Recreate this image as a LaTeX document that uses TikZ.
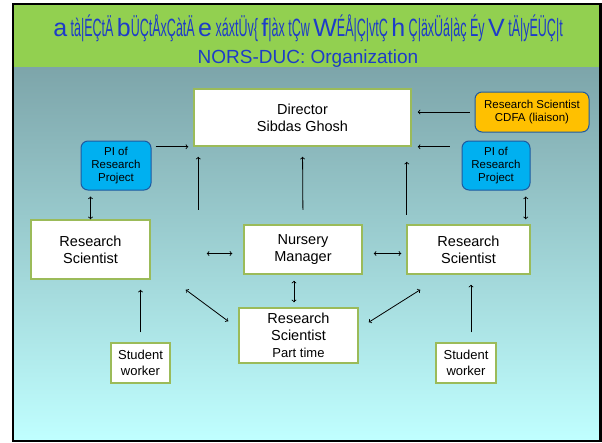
\documentclass[tikz,border=0pt]{standalone}
\usepackage{fontspec}
\setmainfont{Liberation Sans}
\newfontfamily\titlewide{Liberation Sans}
\newfontfamily\titlenarrow[FakeStretch=0.5]{Liberation Sans}

\definecolor{bandgreen}{RGB}{146,208,80}
\definecolor{titleblue}{RGB}{30,60,200}
\definecolor{boxline}{RGB}{155,187,89}
\definecolor{piblue}{RGB}{0,176,240}
\definecolor{piline}{RGB}{31,90,160}
\definecolor{liaison}{RGB}{255,192,0}
\definecolor{slidetop}{RGB}{125,165,170}
\definecolor{slidemid}{RGB}{168,220,222}
\definecolor{slidebot}{RGB}{192,255,255}

% wide glyph inside the narrow title line
\newcommand{\widechar}[1]{{\titlewide #1}}

\begin{document}
\begin{tikzpicture}[x=1pt, y=-1pt, line width=0.8pt,
  orgbox/.style={draw=boxline, line width=1.5pt, fill=white, align=center,
    inner sep=1pt, font=\fontsize{14.5}{17}\selectfont},
  smallbox/.style={orgbox, font=\fontsize{13}{16}\selectfont},
  pibox/.style={draw=piline, line width=1pt, fill=piblue, rounded corners=7pt,
    align=center, inner sep=1pt, font=\fontsize{11.5}{13.3}\selectfont},
  link/.style={<->}]

  \useasboundingbox (0,0) rectangle (602,442);

  % Slide background, title band and frame
  \shade[top color=slidetop, middle color=slidemid, bottom color=slidebot] (12,67) rectangle (600,441);
  \fill[bandgreen] (12,3) rectangle (600,67);
  \draw[line width=2.5pt] (13.2,4.2) rectangle (600.5,440.8);

  % Title lines
  \node[anchor=base, text=titleblue, font=\titlenarrow\fontsize{25}{28}\selectfont] (title) at (308,36)
    {\widechar{a} tà|ÉÇtÄ \widechar{b}ÜÇtÅxÇàtÄ \widechar{e} xáxtÜv\{ \widechar{f}|àx tÇw \widechar{W}ÉÅ|Ç|vtÇ \widechar{h} Ç|äxÜá|àç Éy \widechar{V} tÄ|yÉÜÇ|t};
  \node[anchor=base, text=titleblue, font=\fontsize{19}{22}\selectfont] (subtitle) at (308,63) {NORS-DUC: Organization};

  % Top row
  \node[orgbox, minimum width=217pt, minimum height=57pt] (dir) at (302.5,117.5) {Director\\Sibdas Ghosh};
  \node[pibox, fill=liaison, minimum width=114pt, minimum height=40pt] (cdfa) at (532,112) {Research Scientist\\CDFA (liaison)};
  \node[pibox, minimum width=70pt, minimum height=49pt] (pil) at (116,165.5) {PI of\\Research\\Project};
  \node[pibox, minimum width=68pt, minimum height=49pt] (pir) at (496,165.5) {PI of\\Research\\Project};

  % Middle row
  \node[orgbox, minimum width=119pt, minimum height=59pt] (rsl) at (90.5,249.5) {Research\\Scientist};
  \node[orgbox, minimum width=118pt, minimum height=49pt] (nm) at (303,249.5) {Nursery\\Manager};
  \node[orgbox, minimum width=123pt, minimum height=49pt] (rsr) at (468.5,249.5) {Research\\Scientist};

  % Bottom row
  \node[orgbox, minimum width=119pt, minimum height=55pt] (rspt) at (298.5,335.5) {Research\\Scientist\\{\fontsize{13}{16}\selectfont Part time}};
  \node[smallbox, minimum width=59pt, minimum height=40pt] (swl) at (140.5,363) {Student\\worker};
  \node[smallbox, minimum width=60pt, minimum height=40pt] (swr) at (466,363) {Student\\worker};

  % Reporting lines into the director
  \draw[->, shorten <=4pt, shorten >=5pt] (pil.east |- dir.south west) -- (dir.south west);
  \draw[->, shorten <=5pt, shorten >=6pt] (cdfa.west) -- (cdfa.west -| dir.east);
  \draw[->, shorten <=12pt, shorten >=6pt] (pir.west |- dir.south east) -- (dir.south east);

  \coordinate (inl) at ([xshift=5pt]dir.south west);
  \coordinate (inr) at ([xshift=-5pt]dir.south east);
  \draw[->, shorten <=9.5pt, shorten >=10pt] (inl |- rsl.north) -- (inl);
  \draw[->, shorten <=14.5pt, shorten >=10pt] (nm.north) -- (dir.south);
  \draw[->, shorten <=9.5pt, shorten >=15pt] (inr |- rsr.north) -- (inr);

  % PI links
  \coordinate (pidn) at ([xshift=-5pt]rsr.north east);
  \draw[link, shorten <=6pt, shorten >=0pt] (rsl.north |- pil.south) -- (rsl.north);
  \draw[link, shorten <=6pt, shorten >=5pt] (pidn |- pir.south) -- (pidn);

  % Links between scientists and manager
  \coordinate (mid) at ([xshift=-4.5pt]rspt.north);
  \draw[link, shorten <=56pt, shorten >=11pt] ([yshift=-4pt]rsl.east) -- ([yshift=-4pt]nm.west);
  \draw[link, shorten <=11pt, shorten >=5pt] ([yshift=-4pt]nm.east) -- ([yshift=-4pt]rsr.west);
  \draw[link, shorten <=6pt, shorten >=5pt] (mid |- nm.south) -- (mid);
  \draw[link] ([shift={(35pt,-10pt)}]rsl.south east) -- ([shift={(-10pt,-14pt)}]rspt.north west);
  \draw[link] ([shift={(14pt,-15pt)}]rsr.south west) -- ([shift={(10pt,-15pt)}]rspt.north east);

  % Student workers
  \coordinate (swup) at ([xshift=5pt]swr.north);
  \draw[->, shorten <=10pt, shorten >=10pt] (swl.north) -- (swl.north |- rsl.south);
  \draw[->, shorten <=10pt, shorten >=10pt] (swup) -- (swup |- rsr.south);
\end{tikzpicture}
\end{document}
